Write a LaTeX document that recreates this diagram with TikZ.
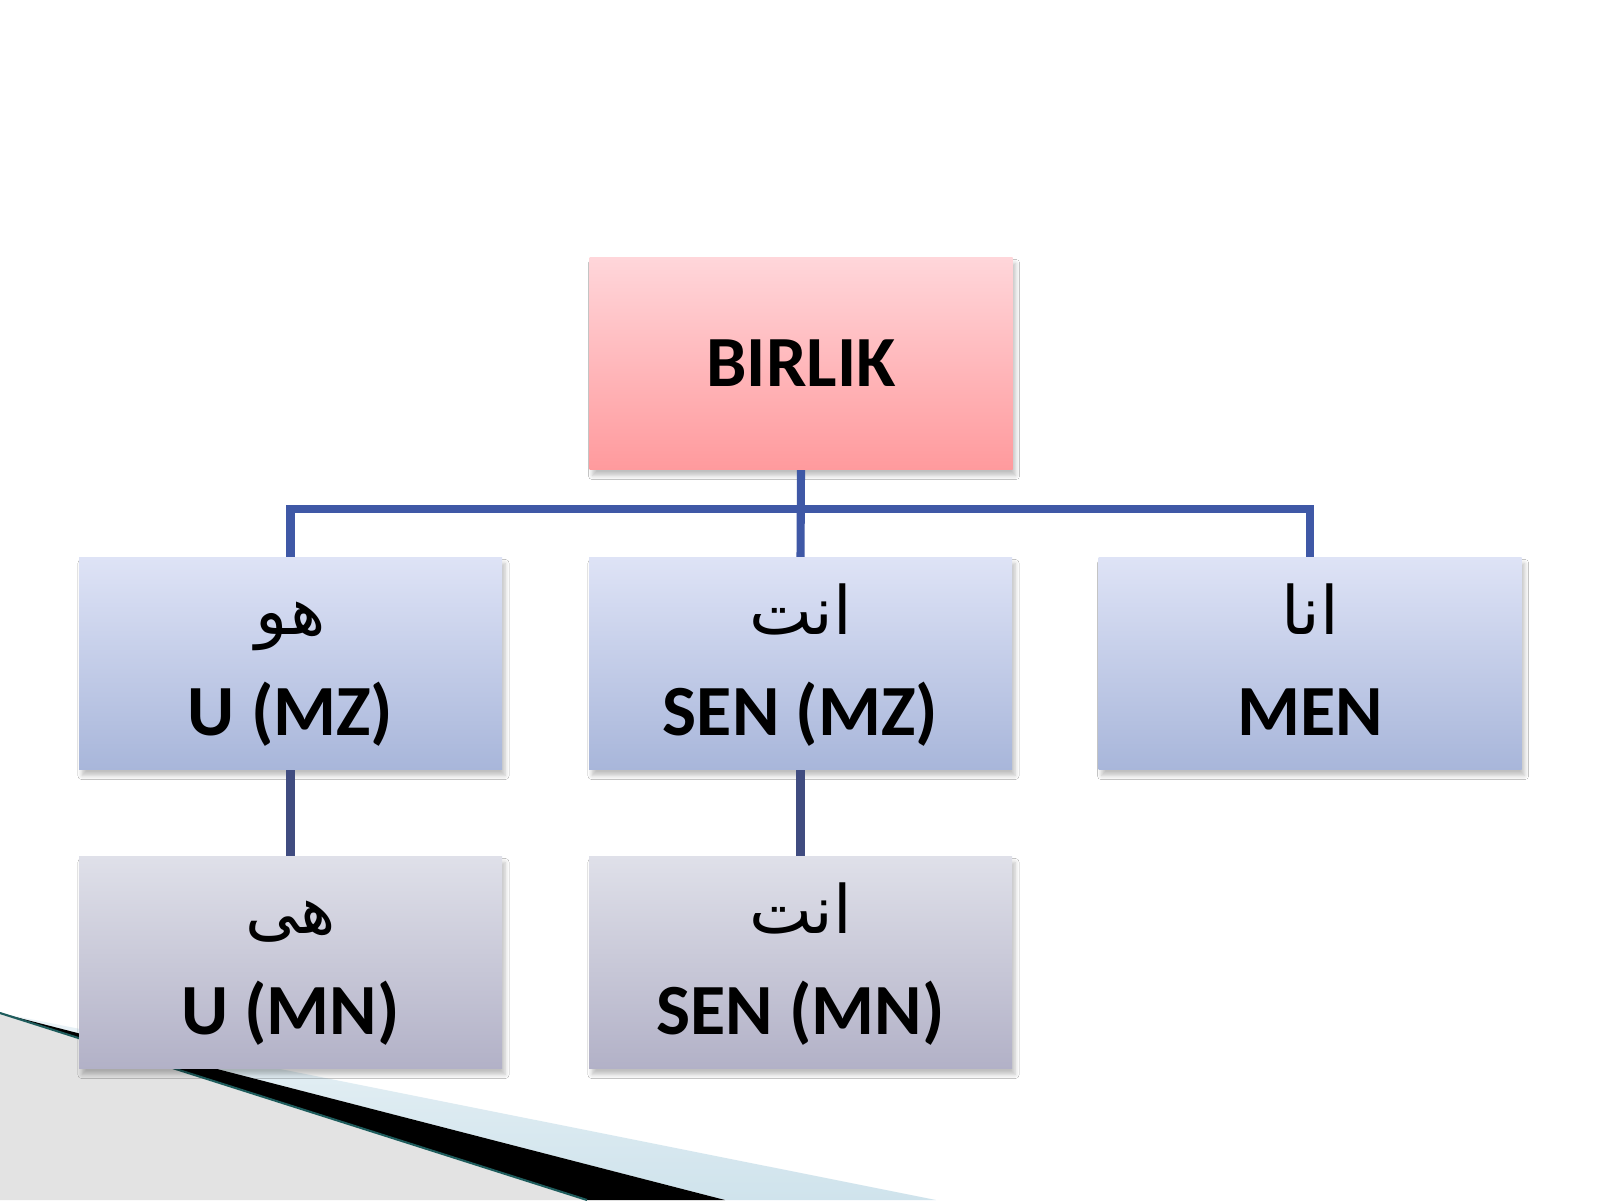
\documentclass[tikz,border=0pt]{standalone}
\usepackage{fontspec}
\usepackage{xcolor}
\usepackage{tikz}
\usetikzlibrary{shadows.blur}
\setmainfont{Carlito}
\newfontfamily\arabicfont[Script=Arabic]{DejaVu Sans}
\TeXXeTstate=1
\definecolor{pinktop}{HTML}{FFD6DA}
\definecolor{pinkbot}{HTML}{FF9A9D}
\definecolor{bluetop}{HTML}{DEE3F6}
\definecolor{bluebot}{HTML}{A8B6DA}
\definecolor{greytop}{HTML}{DFE0E9}
\definecolor{greybot}{HTML}{B2B1C7}
\definecolor{linkblue}{HTML}{3F58A6}
\definecolor{linkslate}{HTML}{404C80}
\definecolor{wedgegrey}{HTML}{E3E3E3}
\definecolor{wedgeblue}{HTML}{CFE3EC}
\definecolor{wedgeteal}{HTML}{1E5C5C}
\newcommand{\arword}[1]{{\arabicfont\mdseries\fontsize{19}{28.5}\selectfont\rule{0pt}{0.63cm}\beginR #1\endR}}
\newcommand{\latword}[1]{#1\rule[-0.2cm]{0pt}{0.2cm}}

\begin{document}
\begin{tikzpicture}[
        box/.style={rectangle, minimum width=4.23cm, minimum height=2.12cm, inner sep=0pt,
            align=center, font=\fontsize{20.5}{28.5}\selectfont\bfseries,
            blur shadow={shadow xshift=0.03cm, shadow yshift=-0.06cm, shadow blur steps=5,
                shadow blur radius=0.25ex, shadow opacity=25}},
        rootbox/.style={box, top color=pinktop, bottom color=pinkbot},
        upperbox/.style={box, top color=bluetop, bottom color=bluebot},
        lowerbox/.style={box, top color=greytop, bottom color=greybot},
        link/.style={line width=2.3pt, color=linkblue},
        sublink/.style={line width=2.3pt, color=linkslate}]
        \useasboundingbox (0, 0) rectangle (16, 12);
        \fill [white] (0, 0) rectangle (16, 12);

        \fill [wedgegrey] (0, 1.87) -- (5.87, 0) -- (0, 0) -- cycle;
        \shade [top color=wedgeblue!45, bottom color=wedgeblue]
            (0, 1.87) -- (9.36, 0) -- (7.25, 0) -- cycle;
        \fill [black] (0, 1.87) -- (7.25, 0) -- (5.87, 0) -- cycle;
        \draw [wedgeteal, line width=0.6pt] (0, 1.87) -- (5.87, 0);

        \node [rootbox] (birlik) at (8.01, 8.365) {BIRLIK};

        \node [upperbox] (hu) at (2.905, 5.365) {\arword{هو}\\\latword{U (MZ)}};
        \node [upperbox] (anta) at (8.005, 5.365) {\arword{انت}\\\latword{SEN (MZ)}};
        \node [upperbox] (ana) at (13.10, 5.365) {\arword{انا}\\\latword{MEN}};

        \node [lowerbox] (hiya) at (2.905, 2.375) {\arword{هی}\\\latword{U (MN)}};
        \node [lowerbox] (anti) at (8.005, 2.375) {\arword{انت}\\\latword{SEN (MN)}};

        \draw [link] (birlik.south) -- (anta.north);
        \draw [link] (hu.north) -- ++(0, 0.475) -| (ana.north);
        \draw [sublink] (hu.south) -- (hiya.north);
        \draw [sublink] (anta.south) -- (anti.north);
    \end{tikzpicture}
\end{document}
